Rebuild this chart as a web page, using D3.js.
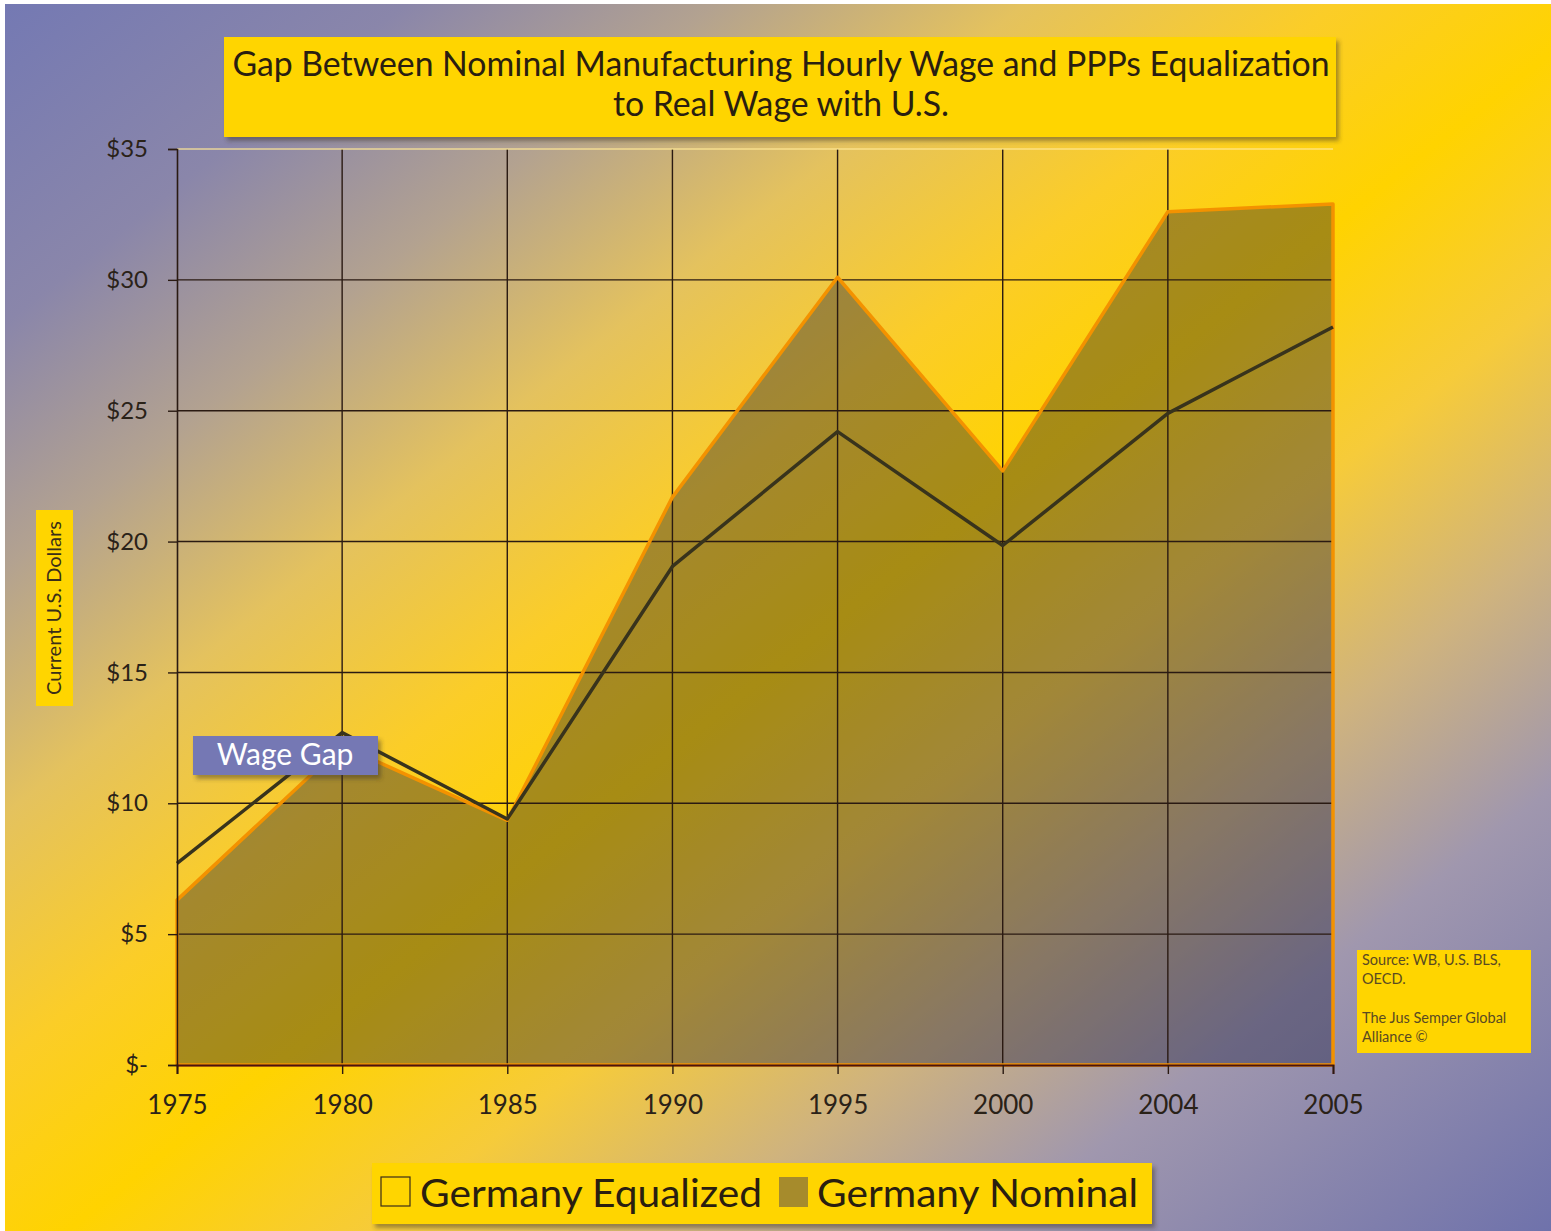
<!DOCTYPE html>
<html>
<head>
<meta charset="utf-8">
<script src="https://cdn.jsdelivr.net/npm/d3@7"></script>
<style>
  body { margin: 0; background: #fff; }
  svg { display: block; }
</style>
</head>
<body>
<div id="chart"></div>
<script>
// values
const years = ["1975", "1980", "1985", "1990", "1995", "2000", "2004", "2005"];
const nominal = [6.3, 12.2, 9.35, 21.7, 30.1, 22.7, 32.6, 32.9];
const equalized = [7.7, 12.7, 9.4, 19.05, 24.2, 19.85, 24.9, 28.2];
const yTicks = [0, 5, 10, 15, 20, 25, 30, 35];
const titleLines = [
  "Gap Between Nominal Manufacturing Hourly Wage and PPPs Equalization",
  "to Real Wage with U.S."
];
const legendLabels = ["Germany Equalized", "Germany Nominal"];
const sourceLines = ["Source: WB, U.S. BLS,", "OECD.", "", "The Jus Semper Global", "Alliance \u00a9"];

const width = 1551;
const height = 1231;
const font = "Lato, 'Open Sans', sans-serif";

const svg = d3.select("#chart")
  .append("svg")
  .attr("width", width)
  .attr("height", height);

const defs = svg.append("defs");

const bg = defs.append("linearGradient")
  .attr("id", "bg")
  .attr("x1", 0).attr("y1", 0)
  .attr("x2", 1).attr("y2", 1);
[
  [0, "#7479b3"], [0.13, "#8a86aa"], [0.23, "#b3a290"], [0.33, "#e4c25e"],
  [0.43, "#fbcd28"], [0.52, "#ffd300"], [0.62, "#f6cb3a"], [0.72, "#cfb37e"],
  [0.82, "#a097ae"], [1, "#6f72ab"]
].forEach(([o, c]) => bg.append("stop").attr("offset", o).attr("stop-color", c));

const shadow = defs.append("filter")
  .attr("id", "shadow")
  .attr("x", -0.1).attr("y", -0.2)
  .attr("width", 1.2).attr("height", 1.5);
shadow.append("feDropShadow")
  .attr("dx", 3).attr("dy", 4)
  .attr("stdDeviation", 2)
  .attr("flood-color", "#3a3020")
  .attr("flood-opacity", 0.45);

svg.append("rect")
  .attr("x", 5).attr("y", 4)
  .attr("width", width - 5).attr("height", height - 4)
  .attr("fill", "url(#bg)");

const x = d3.scalePoint().domain(years).range([177, 1333]);
const y = d3.scaleLinear().domain([0, 35]).range([1065, 149]);

// nominal area
const area = d3.area()
  .x((d, i) => x(years[i]))
  .y0(y(0))
  .y1(d => y(d));

svg.append("path")
  .datum(nominal)
  .attr("d", area)
  .attr("fill", "rgba(15,20,55,0.37)");

// gridlines
const grid = svg.append("g").attr("stroke", "#2a1a12").attr("stroke-width", 1.4);
grid.selectAll("line.h")
  .data(yTicks.filter(t => t > 0 && t < 35))
  .join("line")
  .attr("x1", x(years[0])).attr("x2", x(years[years.length - 1]))
  .attr("y1", d => y(d)).attr("y2", d => y(d));
grid.selectAll("line.v")
  .data(years.slice(1, -1))
  .join("line")
  .attr("x1", d => x(d)).attr("x2", d => x(d))
  .attr("y1", y(35)).attr("y2", y(0));

svg.append("line")
  .attr("x1", x(years[0])).attr("x2", x(years[years.length - 1]))
  .attr("y1", y(35)).attr("y2", y(35))
  .attr("stroke", "rgba(255,232,150,0.8)")
  .attr("stroke-width", 1.5);

// nominal outline
svg.append("path")
  .datum(nominal)
  .attr("d", area)
  .attr("fill", "none")
  .attr("stroke", "#f39200")
  .attr("stroke-width", 3.5)
  .attr("stroke-linejoin", "round");

// equalized line
svg.append("path")
  .datum(equalized)
  .attr("d", d3.line().x((d, i) => x(years[i])).y(d => y(d)))
  .attr("fill", "none")
  .attr("stroke", "#38331c")
  .attr("stroke-width", 3.5)
  .attr("stroke-linejoin", "round");

// axes
const yAxis = svg.append("g")
  .attr("transform", `translate(${x(years[0])},0)`)
  .call(d3.axisLeft(y).tickValues(yTicks).tickSize(9).tickPadding(20)
    .tickFormat(d => d === 0 ? "$-" : "$" + d));
yAxis.select(".domain").attr("stroke", "#2a1a12").attr("stroke-width", 1.6);
yAxis.selectAll(".tick line").attr("stroke", "#2a1a12").attr("stroke-width", 1.4);
yAxis.selectAll(".tick text")
  .attr("font-family", font).attr("font-size", 24).attr("fill", "#2a2218");

const xAxis = svg.append("g")
  .attr("transform", `translate(0,${y(0)})`)
  .call(d3.axisBottom(x).tickSize(9).tickPadding(22));
xAxis.select(".domain").attr("stroke", "#4a1410").attr("stroke-width", 2);
xAxis.selectAll(".tick line").attr("stroke", "#2a1a12").attr("stroke-width", 1.4);
xAxis.selectAll(".tick text")
  .attr("font-family", font).attr("font-size", 26).attr("fill", "#2a2218");

// title
svg.append("rect")
  .attr("x", 224).attr("y", 37)
  .attr("width", 1112).attr("height", 100)
  .attr("fill", "#ffd500")
  .attr("filter", "url(#shadow)");

const titleText = svg.append("g")
  .attr("font-family", font)
  .attr("fill", "#2a1e10")
  .attr("text-anchor", "middle");
const t1 = titleText.append("text")
  .attr("x", 781).attr("y", 76)
  .attr("font-size", 32)
  .text(titleLines[0]);
const fit = 32 * 1098 / t1.node().getComputedTextLength();
t1.attr("font-size", fit);
titleText.append("text")
  .attr("x", 781).attr("y", 116)
  .attr("font-size", fit)
  .text(titleLines[1]);

// y axis label
svg.append("rect")
  .attr("x", 36).attr("y", 510)
  .attr("width", 37).attr("height", 196)
  .attr("fill", "#ffd500");
svg.append("text")
  .attr("transform", "translate(61,608) rotate(-90)")
  .attr("text-anchor", "middle")
  .attr("font-family", font)
  .attr("font-size", 20)
  .attr("fill", "#3a2e18")
  .text("Current U.S. Dollars");

// wage gap label
svg.append("rect")
  .attr("x", 193).attr("y", 736)
  .attr("width", 185).attr("height", 39)
  .attr("fill", "#7478b4")
  .attr("filter", "url(#shadow)");
svg.append("text")
  .attr("x", 285).attr("y", 765)
  .attr("text-anchor", "middle")
  .attr("font-family", font)
  .attr("font-size", 30)
  .attr("fill", "#ffffff")
  .text("Wage Gap");

// source box
svg.append("rect")
  .attr("x", 1357).attr("y", 950)
  .attr("width", 174).attr("height", 103)
  .attr("fill", "#ffd500");
svg.append("g")
  .attr("font-family", font)
  .attr("font-size", 14.5)
  .attr("fill", "#5a4a22")
  .selectAll("text")
  .data(sourceLines)
  .join("text")
  .attr("x", 1362)
  .attr("y", (d, i) => 965 + i * 19.3)
  .text(d => d);

// legend
svg.append("rect")
  .attr("x", 372).attr("y", 1163)
  .attr("width", 780).attr("height", 61)
  .attr("fill", "#ffd500")
  .attr("filter", "url(#shadow)");
const legend = svg.append("g");
legend.append("rect")
  .attr("x", 381).attr("y", 1177)
  .attr("width", 29).attr("height", 29)
  .attr("fill", "none")
  .attr("stroke", "#3a2e18")
  .attr("stroke-width", 1.2);
legend.append("rect")
  .attr("x", 779).attr("y", 1177)
  .attr("width", 29).attr("height", 30)
  .attr("fill", "#a68b2c");
legend.selectAll("text")
  .data(legendLabels)
  .join("text")
  .attr("x", (d, i) => [420, 817][i])
  .attr("y", 1207)
  .attr("font-family", font)
  .attr("font-size", 39)
  .attr("fill", "#2a1e10")
  .attr("textLength", (d, i) => [342, 321][i])
  .attr("lengthAdjust", "spacingAndGlyphs")
  .text(d => d);
</script>
</body>
</html>
